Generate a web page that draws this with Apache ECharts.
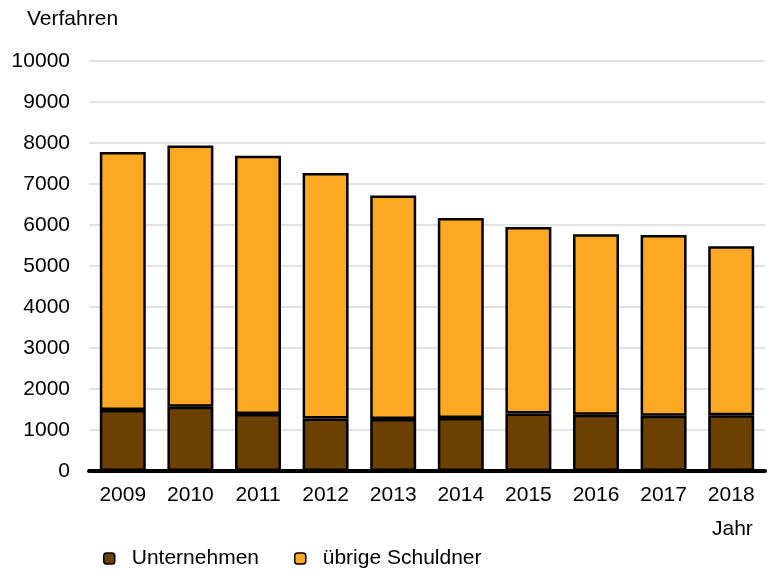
<!DOCTYPE html>
<html>
<head>
<meta charset="utf-8">
<script src="https://cdn.jsdelivr.net/npm/echarts@6/dist/echarts.min.js"></script>
<style>
  html, body { margin: 0; padding: 0; background: #fff; }
  #chart { width: 767px; height: 571px; }
</style>
</head>
<body>
<div id="chart"></div>
<script>
const years = ['2009', '2010', '2011', '2012', '2013', '2014', '2015', '2016', '2017', '2018']
const unternehmen = [1490, 1570, 1390, 1280, 1270, 1290, 1400, 1375, 1350, 1360]
const uebrige = [6290, 6370, 6300, 5990, 5450, 4880, 4550, 4400, 4405, 4120]

const font = 'Liberation Sans, Arial, sans-serif'
const chart = echarts.init(document.getElementById('chart'))

chart.setOption({
  animation: false,
  textStyle: { fontFamily: font },
  graphic: [
    { type: 'text', left: 27, top: 9, style: { text: 'Verfahren', font: '21px ' + font, fill: '#000' } },
    { type: 'text', left: 712, top: 519, style: { text: 'Jahr', font: '21px ' + font, fill: '#000' } },
  ],
  legend: {
    left: 98,
    top: 543,
    itemWidth: 11,
    itemHeight: 11,
    itemGap: 35,
    textStyle: { fontSize: 21, color: '#000', padding: [0, 0, 0, 12] },
    data: [
      { name: 'Unternehmen', itemStyle: { borderColor: '#000', borderWidth: 1.5 } },
      { name: 'übrige Schuldner', itemStyle: { borderColor: '#000', borderWidth: 1.5 } },
    ],
  },
  grid: { top: 61, left: 89, right: 2, bottom: 100 },
  xAxis: {
    type: 'category',
    data: years,
    axisLine: { lineStyle: { color: '#000', width: 4 } },
    axisTick: { show: false },
    axisLabel: { color: '#000', fontSize: 21, margin: 14 },
  },
  yAxis: {
    type: 'value',
    min: 0,
    max: 10000,
    interval: 1000,
    axisLine: { show: false },
    axisTick: { show: false },
    axisLabel: { color: '#000', fontSize: 21, margin: 19, formatter: (v) => String(v) },
    splitLine: { lineStyle: { color: '#d9d9d9', width: 1.5 } },
  },
  series: [
    {
      name: 'Unternehmen',
      type: 'bar',
      stack: 'total',
      barWidth: '68%',
      data: unternehmen,
      itemStyle: { color: '#6b4000', borderColor: '#000', borderWidth: 2.5 },
    },
    {
      name: 'übrige Schuldner',
      type: 'bar',
      stack: 'total',
      data: uebrige,
      itemStyle: { color: '#fca823', borderColor: '#000', borderWidth: 2.5 },
    },
  ],
})
</script>
</body>
</html>
